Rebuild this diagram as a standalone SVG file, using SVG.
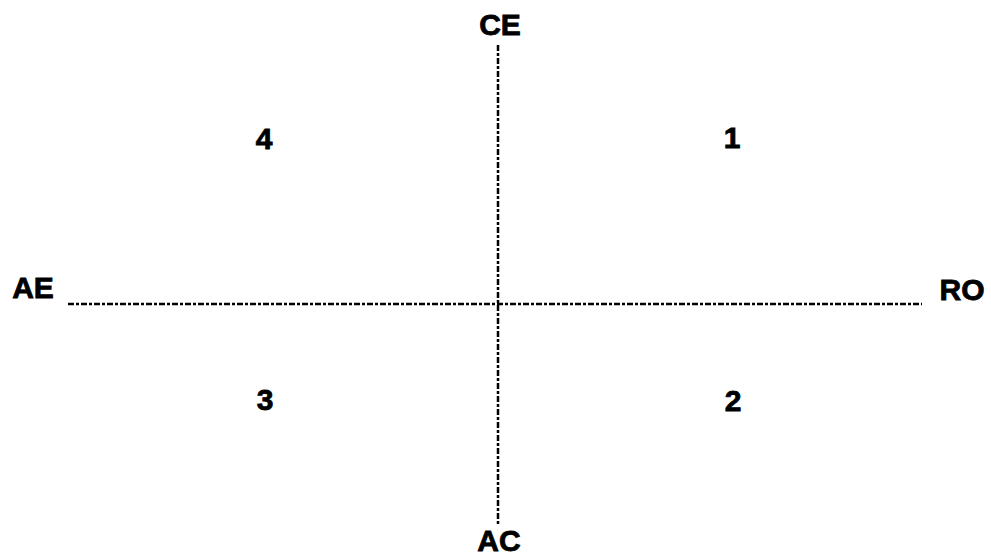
<svg xmlns="http://www.w3.org/2000/svg" width="991" height="560" viewBox="0 0 991 560">
<style>
.lbl{font-family:"Liberation Sans",Arial,sans-serif;font-weight:bold;font-size:30px;fill:#000;stroke:#000;stroke-width:0.8;text-anchor:middle}
.axis{stroke:#000;stroke-width:2.5;stroke-dasharray:6 2 3 2;fill:none}
</style>
<rect width="991" height="560" fill="#fff"/>
<g id="connectors">
<line class="axis" x1="498" y1="45" x2="498" y2="526"/>
<line class="axis" x1="68" y1="304" x2="922" y2="304"/>
</g>
<g id="CE"><text class="lbl" x="500" y="35">CE</text></g>
<g id="AE"><text class="lbl" x="33" y="298">AE</text></g>
<g id="RO"><text class="lbl" x="962" y="300">RO</text></g>
<g id="AC"><text class="lbl" x="499" y="551">AC</text></g>
<g id="q4"><text class="lbl" x="264" y="149">4</text></g>
<g id="q1"><text class="lbl" x="732" y="148">1</text></g>
<g id="q3"><text class="lbl" x="265" y="410">3</text></g>
<g id="q2"><text class="lbl" x="733" y="411">2</text></g>
</svg>
